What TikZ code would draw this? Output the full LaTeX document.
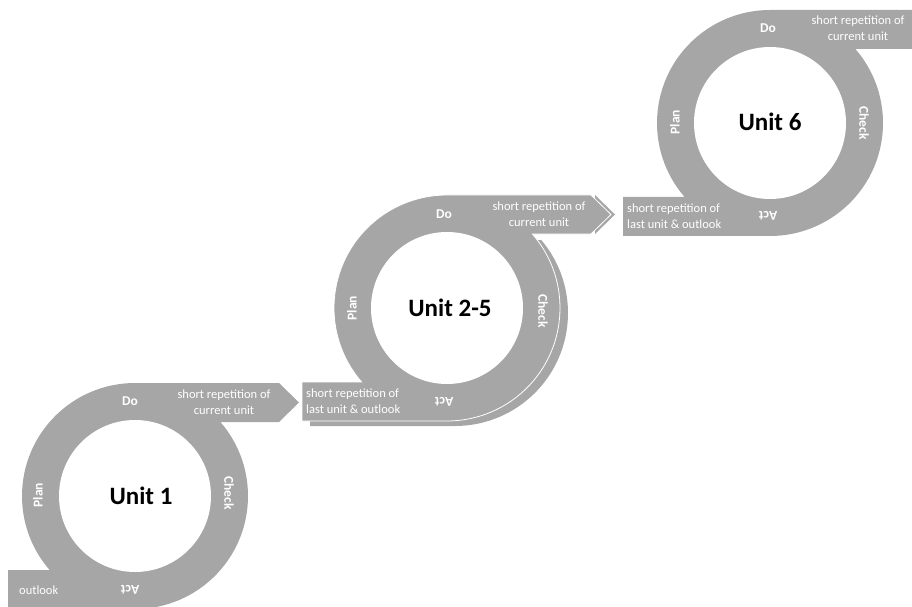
\documentclass[tikz,border=0pt]{standalone}
\usepackage{fontspec}
\setmainfont{Carlito}
\usetikzlibrary{calc}
\definecolor{ringgray}{HTML}{A6A6A6}
\tikzset{
  phase/.style={text=white,font=\fontsize{13.5}{15}\selectfont\bfseries,inner sep=0pt},
  unitlabel/.style={font=\fontsize{25}{28}\selectfont\bfseries,inner sep=0pt},
  note/.style={text=white,font=\fontsize{12.5}{16}\selectfont,inner sep=0pt},
  ringfront/.style={fill=ringgray,draw=white,line width=0.8pt},
  ringback/.style={fill=ringgray},
  hole/.style={fill=white},
}
\pgfmathsetmacro\al{asin(74/113)}
\newcommand{\ringpath}[3]{%
  (#1,#2+113) -- (#1+144,#2+113) -- (#1+164,#2+93.5) -- (#1+144,#2+74)
  -- ($(#1,#2)+(\al:113)$) arc[start angle=\al,end angle=-90,radius=113]
  -- (#1-#3,#2-113) -- (#1-#3,#2-74)
  -- ($(#1,#2)+(180+\al:113)$) arc[start angle=180+\al,end angle=90,radius=113] -- cycle}
\begin{document}
\begin{tikzpicture}[x=1pt,y=1pt]
\useasboundingbox (0,0) rectangle (912,606);
\clip (0,0) rectangle (912,606);

% ---------- Unit 1 ----------
\fill[ringgray] \ringpath{135}{110}{127};
\fill[hole] (135,110) circle[radius=76];
\node[unitlabel] (u1) at (141,110) {Unit 1};
\node[phase] (do1) at (130,205) {Do};
\node[phase,rotate=-90] (check1) at (229,113) {Check};
\node[phase,rotate=90] (plan1) at (38,111) {Plan};
\node[phase,rotate=180] (act1) at (130,16) {Act};
\node[note,align=center] (top1) at (224,204) {short repetition of\\current unit};
\node[note,anchor=west] (bot1) at (19,16) {outlook};

% ---------- Unit 2-5 ----------
\begin{scope}
\clip (0,0) rectangle (912,366);
\begin{scope}[shift={(8,-5)}]
\fill[ringback] \ringpath{447}{298}{145};
\end{scope}
\end{scope}
\fill[ringback] (595,411) -- (615,391.5) -- (595,372) -- cycle;
\filldraw[ringfront] \ringpath{447}{298}{145};
\fill[hole] (447,298) circle[radius=76];
\node[unitlabel] (u2) at (450,298) {Unit 2-5};
\node[phase] (do2) at (444,392) {Do};
\node[phase,rotate=-90] (check2) at (543,295) {Check};
\node[phase,rotate=90] (plan2) at (352,298) {Plan};
\node[phase,rotate=180] (act2) at (444,204) {Act};
\node[note,align=center] (top2) at (539,392) {short repetition of\\current unit};
\node[note,align=left,anchor=west] (bot2) at (306,205) {short repetition of\\last unit \& outlook};

% ---------- Unit 6 ----------
\fill[ringgray] \ringpath{770}{483}{147};
\fill[hole] (770,483) circle[radius=76];
\node[unitlabel] (u6) at (770,484) {Unit 6};
\node[phase] (do6) at (768,578) {Do};
\node[phase,rotate=-90] (check6) at (864,483) {Check};
\node[phase,rotate=90] (plan6) at (675,484) {Plan};
\node[phase,rotate=180] (act6) at (768,390) {Act};
\node[note,align=center] (top6) at (858,578) {short repetition of\\current unit};
\node[note,align=left,anchor=west] (bot6) at (627,390) {short repetition of\\last unit \& outlook};
\end{tikzpicture}
\end{document}
